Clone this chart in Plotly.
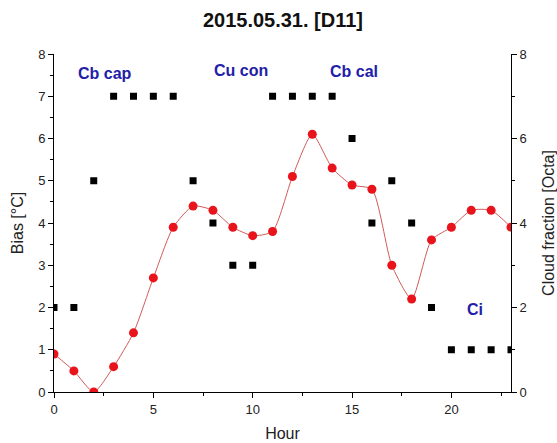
import plotly.graph_objects as go

hours = list(range(24))
bias = [0.9, 0.5, 0.0, 0.6, 1.4, 2.7, 3.9, 4.4, 4.3, 3.9, 3.7, 3.8,
        5.1, 6.1, 5.3, 4.9, 4.8, 3.0, 2.2, 3.6, 3.9, 4.3, 4.3, 3.9]
cloud = [2, 2, 5, 7, 7, 7, 7, 5, 4, 3, 3, 7,
         7, 7, 7, 6, 4, 5, 4, 2, 1, 1, 1, 1]
cloud_labels = ["Cb cap", "Cu con", "Cb cal", "Ci"]
label_x = [2.55, 9.4, 15.1, 21.2]
label_y = [7.55, 7.6, 7.58, 1.95]

FONT = "Liberation Sans, Arial, sans-serif"

fig = go.Figure()
fig.add_trace(go.Scatter(
    x=hours, y=cloud, mode="markers", yaxis="y2",
    marker=dict(symbol="square", size=7, color="black"),
    showlegend=False))
fig.add_trace(go.Scatter(
    x=hours, y=bias, mode="lines+markers",
    line=dict(color="#d05a5a", width=1, shape="spline", smoothing=0.6),
    marker=dict(symbol="circle", size=9, color="#e8131b"),
    showlegend=False))

for t, x, y in zip(cloud_labels, label_x, label_y):
    fig.add_annotation(x=x, y=y, xref="x", yref="y", text=t, showarrow=False,
                       font=dict(family=FONT, size=16, color="#1f20a8", weight="bold"))

axis_common = dict(showline=True, linecolor="black", linewidth=1, ticks="outside",
                   tickcolor="black", ticklen=5, showgrid=False, zeroline=False,
                   automargin=False,
                   tickfont=dict(family=FONT, size=13, color="#222"))

fig.update_layout(
    width=557, height=443,
    margin=dict(l=54, r=46, t=54, b=51),
    paper_bgcolor="white", plot_bgcolor="white",
    title=dict(text="2015.05.31. [D11]", x=0.508, xanchor="center",
               y=1 - 20 / 443, yanchor="middle",
               font=dict(family=FONT, size=20, color="#111", weight="bold")),
    xaxis=dict(range=[0, 23], dtick=5, tick0=0,
               minor=dict(ticks="outside", ticklen=3, dtick=2.5, tick0=0, tickcolor="black"),
               title=dict(text="Hour", font=dict(family=FONT, size=16, color="#222"), standoff=12),
               **axis_common),
    yaxis=dict(range=[0, 8], dtick=1, tick0=0,
               minor=dict(ticks="outside", ticklen=3, dtick=0.5, tick0=0, tickcolor="black"),
               title=dict(text="Bias [°C]", font=dict(family=FONT, size=16, color="#222"), standoff=10),
               **axis_common),
    yaxis2=dict(range=[0, 8], dtick=2, tick0=0, overlaying="y", side="right",
                minor=dict(ticks="outside", ticklen=3, dtick=1, tick0=0, tickcolor="black"),
                title=dict(text="Cloud fraction [Octa]", font=dict(family=FONT, size=16, color="#222"), standoff=19),
                **axis_common),
)

fig.write_html("out.html",
               config={"displayModeBar": False},
               post_script="document.body.style.margin='0';document.body.style.overflow='hidden';")
